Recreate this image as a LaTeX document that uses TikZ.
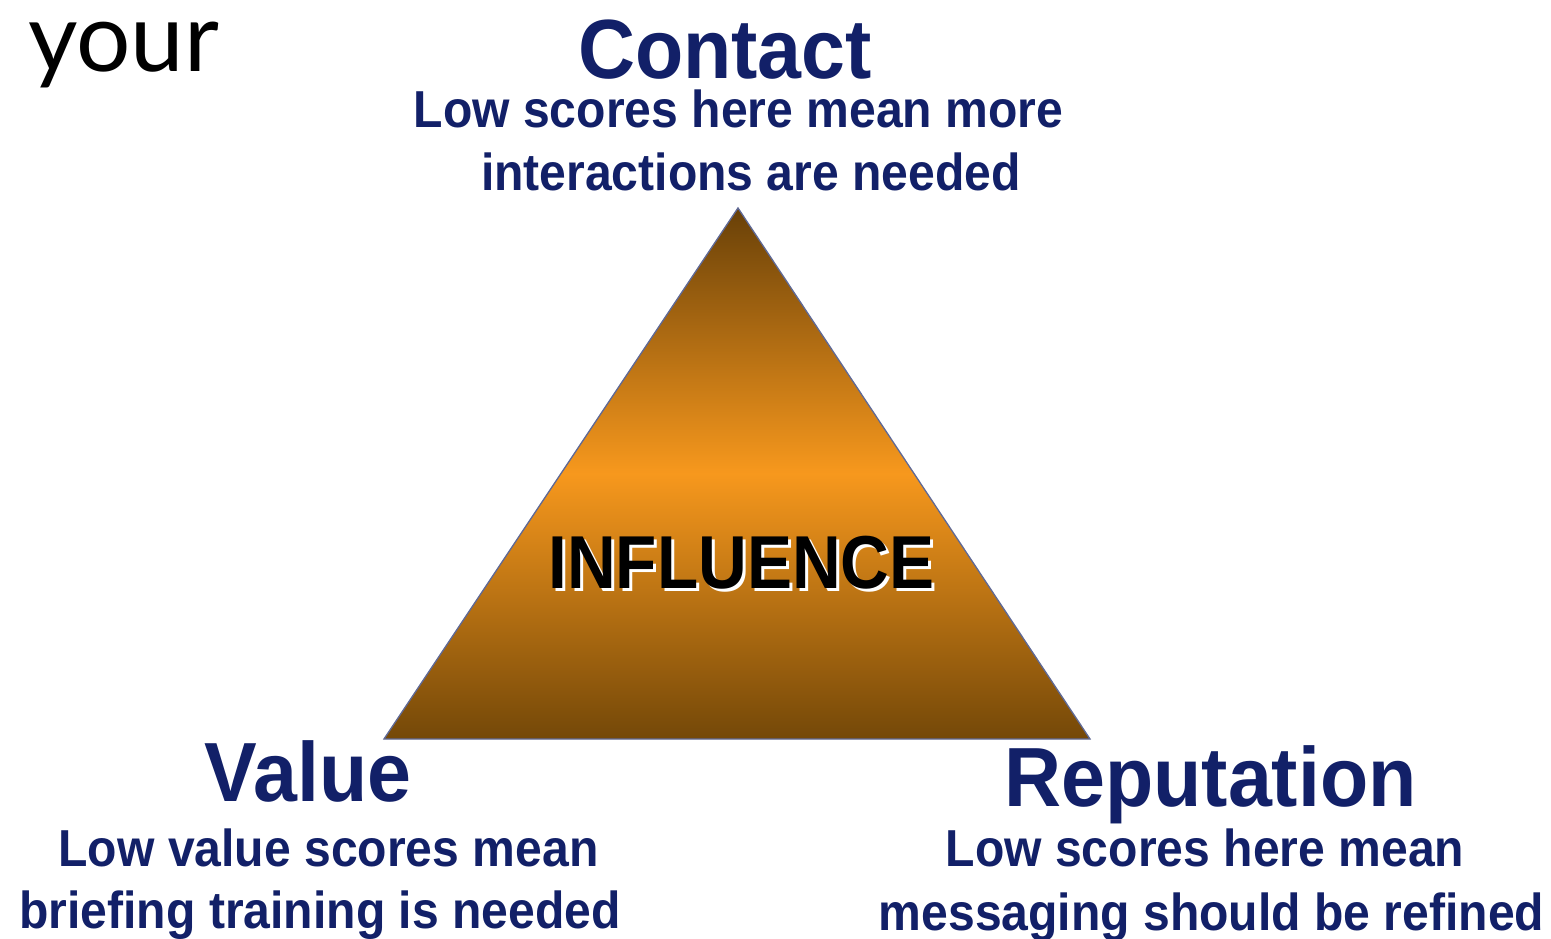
\documentclass[tikz,border=0pt]{standalone}
\usepackage{fontspec}
\setmainfont{Liberation Sans}
\newfontfamily\headfont{Liberation Sans}[FakeStretch=0.94]
\newfontfamily\subfont{Liberation Sans}[FakeStretch=0.925]
\newfontfamily\coreFont{Liberation Sans}[FakeStretch=0.9]
\newfontfamily\wordfont{Lato}
\definecolor{navy}{RGB}{18,32,104}
\definecolor{brownTop}{RGB}{104,64,8}
\definecolor{orangeMid}{RGB}{247,152,29}
\definecolor{brownBot}{RGB}{116,72,8}
\definecolor{edgeGrey}{RGB}{95,105,150}
% the path's box spans 25bp..75bp of the shading: dark at both ends, orange in the middle
\pgfdeclareverticalshading{pyramid}{100bp}{%
  color(0bp)=(brownBot); color(25bp)=(brownBot);
  color(50bp)=(orangeMid);
  color(75bp)=(brownTop); color(100bp)=(brownTop)}
\begin{document}
\begin{tikzpicture}[x=1pt,y=1pt,
  txt/.style={inner sep=0pt,anchor=base,text=navy},
  heading/.style={txt,font=\headfont\bfseries\fontsize{84}{84}\selectfont},
  note/.style={txt,font=\subfont\bfseries\fontsize{52}{52}\selectfont},
  core/.style={inner sep=0pt,anchor=base,font=\coreFont\bfseries\fontsize{75}{75}\selectfont}]
\useasboundingbox (0,0) rectangle (1551,-938);
\fill[white] (0,0) rectangle (1551,-938);

% corner word
\node[inner sep=0pt,anchor=base west,text height=48pt,
      font=\wordfont\fontsize{96}{96}\selectfont] (word) at (28,-71) {your};

% shaded triangle
\coordinate (apex) at (738,-208);
\coordinate (bl) at (384,-739);
\coordinate (br) at (1090,-739);
\shade[shading=pyramid] (apex) -- (br) -- (bl) -- cycle;
\draw[edgeGrey,line width=1.3pt,line join=miter] (apex) -- (br) -- (bl) -- cycle;

% centre label with light drop shadow
\node[core,text=white] (coreshadow) at (744.5,-591) {INFLUENCE};
\node[core,text=black] (core) at (741.5,-588) {INFLUENCE};

% top corner
\node[heading] (contact) at (725,-78) {Contact};
\node[note] (contact1) at (738.5,-127) {Low scores here mean more};
\node[note] (contact2) at (751,-190) {interactions are needed};

% bottom left corner
\node[heading] (value) at (308,-801) {Value};
\node[note] (value1) at (328.5,-866) {Low value scores mean};
\node[note] (value2) at (320,-928) {briefing training is needed};

% bottom right corner
\node[heading] (rep) at (1210.5,-806) {Reputation};
\node[note] (rep1) at (1205,-866) {Low scores here mean};
\node[note] (rep2) at (1211.5,-930) {messaging should be refined};
\end{tikzpicture}
\end{document}
